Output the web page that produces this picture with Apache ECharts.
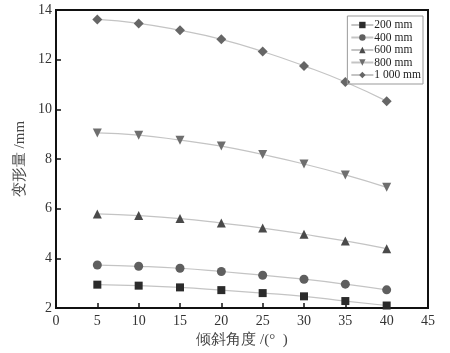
<!DOCTYPE html>
<html>
<head>
<meta charset="utf-8">
<script src="https://cdn.jsdelivr.net/npm/echarts@6/dist/echarts.min.js"></script>
<style>
  html, body { margin: 0; padding: 0; background: #fff; }
  #main { width: 450px; height: 353px; }
</style>
</head>
<body>
<div id="main"></div>
<script>
var angles = [5, 10, 15, 20, 25, 30, 35, 40];
var names = ['200 mm', '400 mm', '600 mm', '800 mm', '1 000 mm'];
var d200 = [2.94, 2.90, 2.83, 2.72, 2.60, 2.47, 2.28, 2.10];
var d400 = [3.73, 3.68, 3.60, 3.47, 3.32, 3.16, 2.96, 2.73];
var d600 = [5.79, 5.72, 5.60, 5.42, 5.22, 4.97, 4.70, 4.39];
var d800 = [9.05, 8.96, 8.76, 8.52, 8.18, 7.80, 7.36, 6.86];
var d1000 = [13.62, 13.46, 13.18, 12.82, 12.33, 11.75, 11.10, 10.33];

var symbols = ['rect', 'circle', 'triangle', 'path://M0,0 L10,0 L5,9 Z', 'diamond'];
var colors = ['#2b2b2b', '#5f5f5f', '#4a4a4a', '#6e6e6e', '#666666'];
var sizes = [8, 9, 9, 9, 10];
var allData = [d200, d400, d600, d800, d1000];

window.onload = function () {
  var myChart = echarts.init(document.getElementById('main'));
  var font = '"Liberation Serif", "Times New Roman", serif';

  var series = allData.map(function (vals, i) {
    return {
      name: names[i],
      type: 'line',
      data: angles.map(function (a, j) { return [a, vals[j]]; }),
      symbol: symbols[i],
      symbolSize: sizes[i],
      showAllSymbol: true,
      smooth: true,
      itemStyle: { color: colors[i] },
      lineStyle: { color: '#c4c4c4', width: 1.2 }
    };
  });

  var option = {
    backgroundColor: '#fff',
    animation: false,
    grid: { left: 56, right: 22, top: 10, bottom: 45 },
    legend: {
      orient: 'vertical',
      right: 27,
      top: 16,
      itemWidth: 22,
      itemHeight: 8,
      itemGap: 0.5,
      padding: [3, 2, 3, 3],
      borderColor: '#999',
      borderWidth: 1,
      textStyle: { fontFamily: font, fontSize: 11.5, lineHeight: 11.5, color: '#222', padding: [0, 0, 0, -4] },
      data: names
    },
    xAxis: {
      type: 'value',
      min: 0, max: 45, interval: 5,
      name: '倾斜角度 /(°  )',
      nameLocation: 'middle',
      nameGap: 25,
      nameTextStyle: { fontFamily: font, fontSize: 15, color: '#444' },
      axisLine: { show: true, onZero: false, lineStyle: { color: '#111', width: 2 } },
      axisTick: { show: true, inside: true, length: 5, lineStyle: { color: '#111', width: 1.5 } },
      axisLabel: { fontFamily: font, fontSize: 14, color: '#333', margin: 6 },
      splitLine: { show: false }
    },
    yAxis: {
      type: 'value',
      min: 2, max: 14, interval: 2,
      name: '变形量 /mm',
      nameLocation: 'middle',
      nameGap: 26,
      nameTextStyle: { fontFamily: font, fontSize: 15, color: '#444' },
      axisLine: { show: true, onZero: false, lineStyle: { color: '#111', width: 2 } },
      axisTick: { show: true, inside: true, length: 5, lineStyle: { color: '#111', width: 1.5 } },
      axisLabel: { fontFamily: font, fontSize: 14, color: '#333', margin: 4 },
      splitLine: { show: false }
    },
    graphic: [{
      type: 'rect',
      shape: { x: 56, y: 10, width: 372, height: 298 },
      style: { fill: 'none', stroke: '#111', lineWidth: 2 },
      silent: true
    }],
    series: series
  };
  myChart.setOption(option);
};
</script>
</body>
</html>
